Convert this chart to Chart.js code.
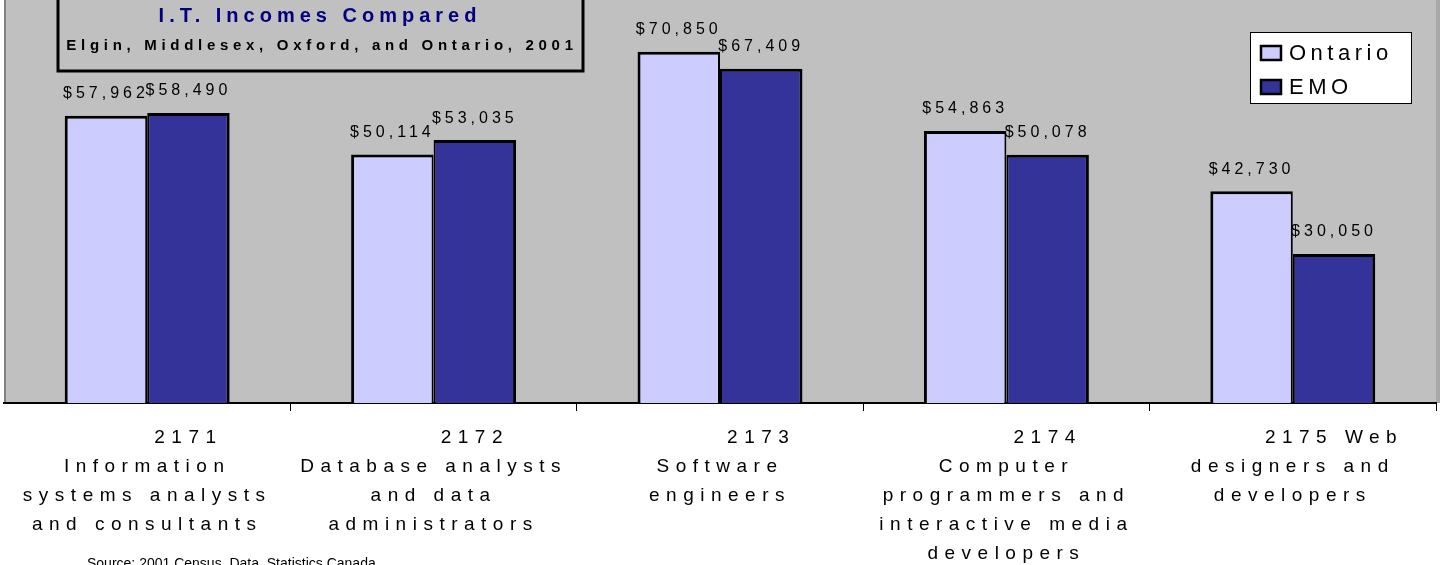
<!DOCTYPE html>
<html>
<head>
<meta charset="utf-8">
<script src="https://cdn.jsdelivr.net/npm/chart.js@4/dist/chart.umd.min.js"></script>
<style>
  html, body { margin: 0; padding: 0; background: #ffffff; }
  #wrap { width: 1445px; height: 565px; }
</style>
</head>
<body>
<div id="wrap"><canvas id="grafico" width="1445" height="565"></canvas></div>
<script>
// Datos del gráfico
const codigos = ['2171', '2172', '2173', '2174', '2175 Web'];
const nombres = [
  ['Information', 'systems analysts', 'and consultants'],
  ['Database analysts', 'and data', 'administrators'],
  ['Software', 'engineers'],
  ['Computer', 'programmers and', 'interactive media', 'developers'],
  ['designers and', 'developers']
];
const series = ['Ontario', 'EMO'];
const ontario = [57962, 50114, 70850, 54863, 42730];
const emo = [58490, 53035, 67409, 50078, 30050];
const ejeMax = 81300;

const titulo = 'I.T. Incomes Compared';
const subtitulo = 'Elgin, Middlesex, Oxford, and Ontario, 2001';
const fuente = 'Source: 2001 Census, Data, Statistics Canada';

const FAMILIA = '"Liberation Sans", Arial, sans-serif';
const colores = ['#CCCCFF', '#333399'];

// el código va corrido a la derecha (como en el original, con espacios delante)
const etiquetas = codigos.map((c, i) => ['       ' + c].concat(nombres[i]));

function plata(v) {
  return '$' + v.toLocaleString('en-US');
}

// Plugin para el fondo gris, etiquetas de valores, leyenda y caja del título
const decorado = {
  id: 'decorado',
  beforeDraw(chart) {
    const { ctx, chartArea: a } = chart;
    ctx.save();
    ctx.fillStyle = '#C0C0C0';
    ctx.fillRect(a.left, a.top, a.right - a.left, a.bottom - a.top);
    ctx.strokeStyle = '#808080';
    ctx.lineWidth = 2;
    ctx.beginPath();
    ctx.moveTo(a.left + 1, a.top);
    ctx.lineTo(a.left + 1, a.bottom);
    ctx.stroke();
    ctx.fillStyle = '#A8A8A8';
    ctx.fillRect(a.right, a.top, 4, a.bottom - a.top);
    ctx.restore();
    // espaciado de letras para las etiquetas del eje
    ctx.letterSpacing = '6.5px';
  },
  afterDatasetsDraw(chart) {
    const ctx = chart.ctx;
    ctx.save();
    ctx.letterSpacing = '4px';
    ctx.font = '16px ' + FAMILIA;
    ctx.fillStyle = '#000000';
    ctx.textAlign = 'center';
    ctx.textBaseline = 'middle';
    chart.data.datasets.forEach((ds, i) => {
      chart.getDatasetMeta(i).data.forEach((bar, j) => {
        ctx.fillText(plata(ds.data[j]), bar.x, bar.y - 22);
      });
    });
    ctx.restore();
  },
  afterDraw(chart) {
    const ctx = chart.ctx;
    ctx.save();
    ctx.letterSpacing = '0px';

    // Leyenda
    ctx.fillStyle = '#FFFFFF';
    ctx.fillRect(1250, 32, 162, 72);
    ctx.strokeStyle = '#000000';
    ctx.lineWidth = 1;
    ctx.strokeRect(1250.5, 32.5, 161, 71);
    const filas = [53, 87];
    chart.data.datasets.forEach((ds, i) => {
      ctx.fillStyle = ds.backgroundColor;
      ctx.fillRect(1261, filas[i] - 7, 20, 14);
      ctx.lineWidth = 2.5;
      ctx.strokeStyle = '#000000';
      ctx.strokeRect(1261, filas[i] - 7, 20, 14);
      ctx.fillStyle = '#000000';
      ctx.font = '22px ' + FAMILIA;
      ctx.letterSpacing = '4.5px';
      ctx.textAlign = 'left';
      ctx.textBaseline = 'middle';
      ctx.fillText(ds.label, 1289, filas[i] + 1);
      ctx.letterSpacing = '0px';
    });

    // Caja del título
    ctx.fillStyle = '#C0C0C0';
    ctx.fillRect(58, -10, 525, 81);
    ctx.strokeStyle = '#000000';
    ctx.lineWidth = 3;
    ctx.strokeRect(58, -10, 525, 81);
    ctx.textAlign = 'center';
    ctx.textBaseline = 'alphabetic';
    ctx.fillStyle = '#000080';
    ctx.font = 'bold 20px ' + FAMILIA;
    ctx.letterSpacing = '5px';
    ctx.fillText(titulo, 320, 22);
    ctx.fillStyle = '#000000';
    ctx.font = 'bold 15px ' + FAMILIA;
    ctx.letterSpacing = '4.7px';
    ctx.fillText(subtitulo, 322, 50);

    // Fuente
    ctx.letterSpacing = '0px';
    ctx.textAlign = 'left';
    ctx.font = '14px ' + FAMILIA;
    ctx.fillText(fuente, 87, 568);
    ctx.restore();
  }
};

const ctx = document.getElementById('grafico').getContext('2d');
const grafico = new Chart(ctx, {
  type: 'bar',
  data: {
    labels: etiquetas,
    datasets: [
      {
        label: series[0],
        data: ontario,
        backgroundColor: colores[0],
        borderColor: '#000000',
        borderWidth: { top: 3, left: 3, right: 2, bottom: 0 },
        borderSkipped: false
      },
      {
        label: series[1],
        data: emo,
        backgroundColor: colores[1],
        borderColor: '#000000',
        borderWidth: { top: 3, left: 2, right: 3, bottom: 0 },
        borderSkipped: false
      }
    ]
  },
  options: {
    responsive: false,
    animation: false,
    devicePixelRatio: 1,
    categoryPercentage: 0.576,
    barPercentage: 1.0,
    layout: { padding: { left: 4, right: 9, top: 0, bottom: 0 } },
    plugins: {
      legend: { display: false },
      tooltip: { enabled: false },
      title: { display: false }
    },
    scales: {
      x: {
        afterFit(scale) { scale.height = 162; },
        border: { display: true, color: '#000000', width: 2 },
        grid: {
          drawOnChartArea: false,
          drawTicks: true,
          tickLength: 8,
          color: (c) => (c.index === 0 ? 'rgba(0,0,0,0)' : '#000000'),
          lineWidth: 1
        },
        ticks: {
          color: '#000000',
          autoSkip: false,
          maxRotation: 0,
          minRotation: 0,
          padding: 12,
          font: { family: FAMILIA, size: 19, lineHeight: '29px' }
        }
      },
      y: {
        display: false,
        min: 0,
        max: ejeMax
      }
    }
  },
  plugins: [decorado]
});
</script>
</body>
</html>
